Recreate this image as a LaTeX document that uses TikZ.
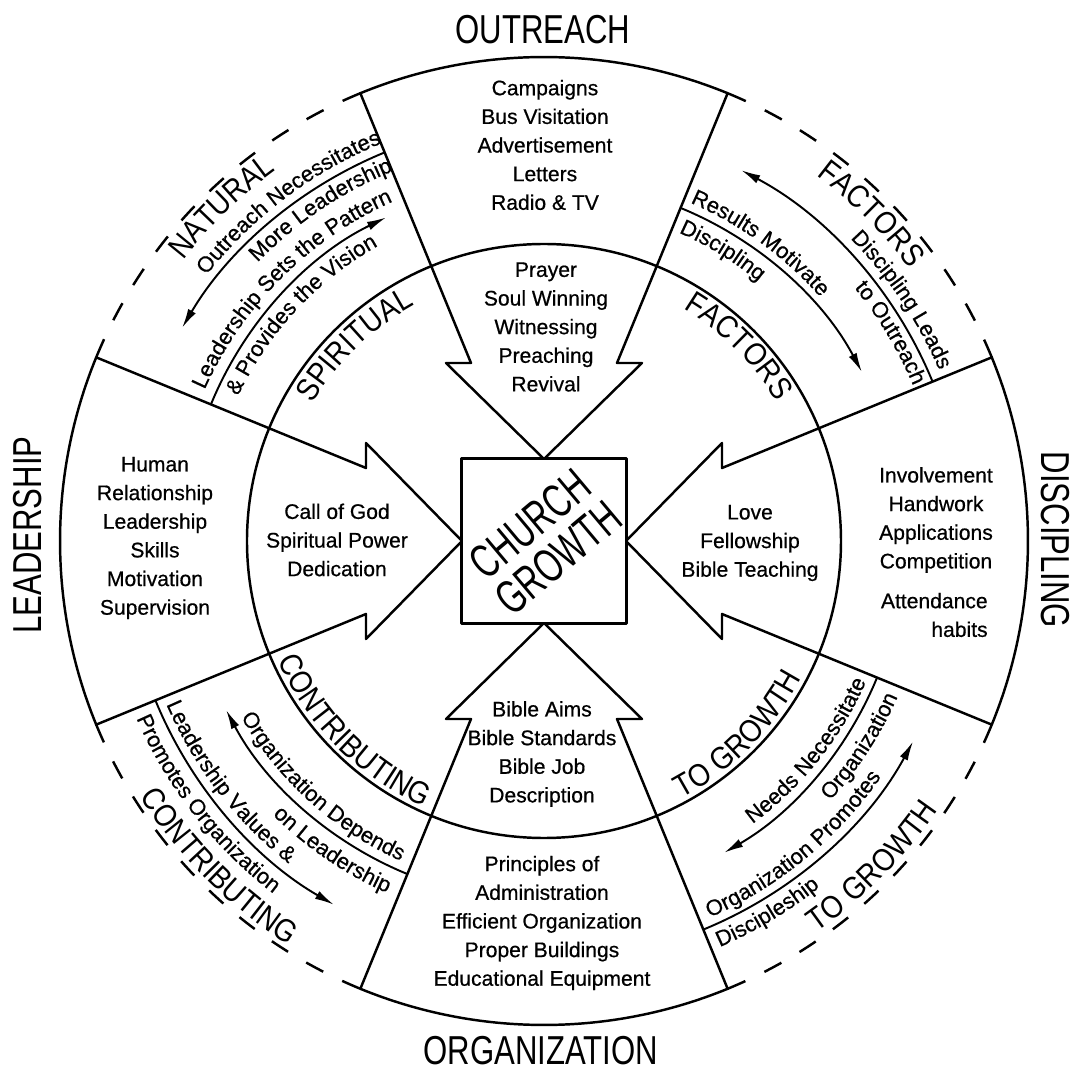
\documentclass[tikz,border=0pt]{standalone}
\usepackage{fontspec}
\setmainfont{Liberation Sans}[FakeBold=0.6]
\newfontfamily\bigfont[FakeStretch=0.77]{Liberation Sans}
\newfontfamily\midfont[FakeStretch=0.88]{Liberation Sans}
\newfontfamily\cgfont[FakeStretch=0.68]{Liberation Sans}
\usetikzlibrary{decorations.text,arrows.meta}
\newcommand\SmallArc{\fontsize{12.5}{15}\selectfont}
\newcommand\BigArc{\midfont\fontsize{18}{21}\selectfont}
\newcommand\ArcLabel[5]{\path[decorate,decoration={text along path,text align=center,text={|#1|#5}}] (#3:#2) arc[start angle=#3,end angle=#4,radius=#2];}
\tikzset{
  outline/.style={line width=1.4pt},
  thinline/.style={line width=1.1pt},
  dashring/.style={line width=1.4pt, dash pattern=on 11pt off 12pt},
  head/.style={-{Latex[length=11pt,width=5pt]}},
  body/.style={align=center, font=\fontsize{12}{16.3}\selectfont, inner sep=0pt},
  biglab/.style={font=\bigfont\fontsize{23}{25}\selectfont, inner sep=0pt}
}
\begin{document}
\begin{tikzpicture}[x=0.02cm,y=0.02cm,line join=round]
\useasboundingbox (-544,-531) rectangle (529,541);
% dashed outer ring in the gaps
\foreach \s in {22.3,112.3,202.3,292.3}
  \draw[dashring] (\s:484) arc[start angle=\s, end angle=\s+45.4, radius=484];
% inner circle
\draw[outline] (0,0) circle[radius=297];
% four block arrows
\foreach \a in {0,90,180,270}{
  \begin{scope}[rotate=\a]
  \draw[outline] (82,0) -- (178,-98) -- (178,-73) -- (-22.3:484)
     arc[start angle=-22.3,end angle=22.3,radius=484] -- (178,73) -- (178,98) -- cycle;
  \end{scope}}
% centre
\node[draw, outline, minimum size=3.3cm, inner sep=0pt] (cg) at (0,0) {};
\node[rotate=40, align=center, font=\cgfont\fontsize{27}{25}\selectfont, inner sep=0pt] (cgt) at (0,0) {CHURCH\\GROWTH};
% relation arcs
\draw[thinline, head] (112.3:420) arc[start angle=112.3, end angle=149.5, radius=420];
\draw[thinline, head] (157.7:360) arc[start angle=157.7, end angle=116, radius=360];
\draw[thinline, head] (67.7:360) arc[start angle=67.7, end angle=28, radius=360];
\draw[thinline, head] (22.3:420) arc[start angle=22.3, end angle=62, radius=420];
\draw[thinline, head] (202.3:420) arc[start angle=202.3, end angle=240, radius=420];
\draw[thinline, head] (247.7:360) arc[start angle=247.7, end angle=208, radius=360];
\draw[thinline, head] (337.7:360) arc[start angle=337.7, end angle=300, radius=360];
\draw[thinline, head] (292.3:420) arc[start angle=292.3, end angle=331.5, radius=420];
% top-left gap
\ArcLabel{\BigArc}{457}{169}{99}{NATURAL}
\ArcLabel{\SmallArc}{429.5}{162}{92}{Outreach Necessitates}
\ArcLabel{\SmallArc}{399.5}{159}{89}{More Leadership}
\ArcLabel{\SmallArc}{371.5}{170}{100}{Leadership Sets the Pattern}
\ArcLabel{\SmallArc}{338.5}{172}{102}{{\&} Provides the Vision}
\ArcLabel{\BigArc}{269}{169}{99}{SPIRITUAL}
% top-right gap
\ArcLabel{\BigArc}{456}{80}{10}{FACTORS}
\ArcLabel{\SmallArc}{368.5}{89}{19}{Results Motivate}
\ArcLabel{\SmallArc}{336.5}{93.4}{23.4}{Discipling}
\ArcLabel{\SmallArc}{430.5}{69}{-1}{Discipling Leads}
\ArcLabel{\SmallArc}{400.5}{66}{-4}{to Outreach}
\ArcLabel{\BigArc}{271}{80}{10}{FACTORS}
% bottom-left gap
\ArcLabel{\BigArc}{478}{190}{260}{CONTRIBUTING}
\ArcLabel{\SmallArc}{411.5}{182.5}{252.5}{Leadership Values {\&}}
\ArcLabel{\SmallArc}{444.5}{183}{253}{Promotes Organization}
\ArcLabel{\SmallArc}{350.5}{193}{263}{Organization Depends}
\ArcLabel{\SmallArc}{385.5}{200.6}{270.6}{on Leadership}
\ArcLabel{\BigArc}{292}{190}{260}{CONTRIBUTING}
% bottom-right gap
\ArcLabel{\BigArc}{477}{280.3}{350.3}{TO GROWTH}
\ArcLabel{\SmallArc}{351.5}{286.4}{356.4}{Needs Necessitate}
\ArcLabel{\SmallArc}{386.5}{292}{362}{Organization}
\ArcLabel{\SmallArc}{411.5}{274.4}{344.4}{Organization Promotes}
\ArcLabel{\SmallArc}{442.5}{266}{336}{Discipleship}
\ArcLabel{\BigArc}{292}{280}{350}{TO GROWTH}
% block texts
\node[body] (out1) at (1,396) {Campaigns\\Bus Visitation\\Advertisement\\Letters\\Radio \& TV};
\node[body] (out2) at (2,214) {Prayer\\Soul Winning\\Witnessing\\Preaching\\Revival};
\node[body] (lead1) at (-389,3) {Human\\Relationship\\Leadership\\Skills\\Motivation\\Supervision};
\node[body] (lead2) at (-207,1) {Call of God\\Spiritual Power\\Dedication};
\node[body] (disc2) at (206,-2) {Love\\Fellowship\\Bible Teaching};
\node[body] (disc1) at (392,21) {Involvement\\Handwork\\Applications\\Competition};
\node[body, align=right, anchor=east] (disc3) at (444,-74) {Attendance\\habits};
\node[body] (org2) at (-2,-213) {Bible Aims\\Bible Standards\\Bible Job\\Description};
\node[body] (org1) at (-2,-382) {Principles of\\Administration\\Efficient Organization\\Proper Buildings\\Educational Equipment};
% main labels
\node[biglab] (outreach) at (-1,511) {OUTREACH};
\node[biglab] (organization) at (-3,-510) {ORGANIZATION};
\node[biglab, rotate=90] (leadership) at (-516,6) {LEADERSHIP};
\node[biglab, rotate=-90] (discipling) at (511,1) {DISCIPLING};
\end{tikzpicture}
\end{document}
